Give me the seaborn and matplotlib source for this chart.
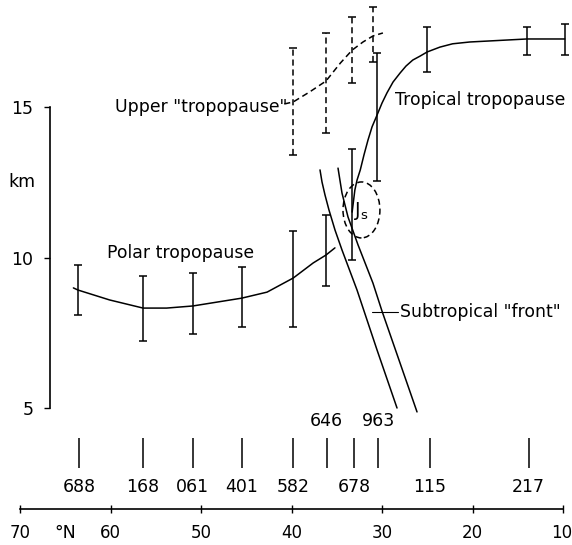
import numpy as np
import pandas as pd
import matplotlib
matplotlib.use("Agg")
import matplotlib.pyplot as plt
from matplotlib.patches import Ellipse
import seaborn as sns

# ---------------- data ----------------
station_names = ['688', '168', '061', '401', '582', '646', '678', '963', '115', '217']
station_lat = [63.5, 56.4, 50.9, 45.5, 39.8, 36.1, 33.1, 30.4, 24.7, 13.8]
stations_label_above = ['646', '963']

polar_lat = [64.1, 63.6, 60.1, 56.4, 53.8, 50.9, 45.5, 42.7, 39.8, 37.6, 36.2, 35.2]
polar_km = [8.99, 8.92, 8.59, 8.32, 8.32, 8.39, 8.65, 8.85, 9.32, 9.82, 10.08, 10.32]
polar_bar_lat = [63.6, 56.4, 50.9, 45.5, 39.8, 36.2]
polar_bar_lo = [8.09, 7.23, 7.46, 7.69, 7.69, 9.05]
polar_bar_hi = [9.75, 9.40, 9.49, 9.68, 10.88, 11.41]

upper_lat = [40.8, 39.8, 38.0, 36.2, 34.6, 33.3, 32.1, 31.0, 29.9]
upper_km = [15.10, 15.17, 15.50, 15.86, 16.46, 16.89, 17.16, 17.36, 17.46]
upper_bar_lat = [39.8, 36.2, 33.3, 31.0]
upper_bar_lo = [13.41, 14.14, 15.80, 16.50]
upper_bar_hi = [16.96, 17.46, 17.99, 18.32]

tropical_lat = [33.3, 33.0, 32.76, 32.4, 31.99, 31.55, 31.1, 30.55, 30.0, 29.45,
                28.78, 28.0, 27.35, 26.6, 25.8, 25.0, 23.6, 22.2, 20.3, 18.4, 14.0, 9.8]
tropical_km = [11.51, 12.24, 12.57, 12.91, 13.41, 13.90, 14.34, 14.73, 15.13, 15.47,
               15.83, 16.13, 16.36, 16.56, 16.69, 16.83, 16.99, 17.10, 17.16, 17.19, 17.26, 17.26]
tropical_bar_lat = [33.3, 30.6, 25.0, 14.0, 9.8]
tropical_bar_lo = [9.92, 12.54, 16.16, 16.73, 16.73]
tropical_bar_hi = [13.60, 16.79, 17.66, 17.66, 17.76]

front_west_lat = [36.85, 36.63, 36.30, 35.86, 35.19, 34.42, 32.76, 30.55, 28.34]
front_west_km = [12.91, 12.51, 12.08, 11.58, 10.91, 10.25, 8.92, 6.93, 5.00]
front_east_lat = [34.86, 34.42, 33.76, 32.65, 31.00, 30.00, 26.13]
front_east_km = [12.97, 12.14, 11.35, 10.42, 9.15, 8.22, 4.87]

jet_center = (32.27, 11.58)
jet_size = (4.08, 1.86)

lat_ticks = [70, 60, 50, 40, 30, 20, 10]
km_ticks = [5, 10, 15]

# ---------------- figure ----------------
sns.set_theme(style="white")
plt.rcParams['font.family'] = ['DejaVu Sans']
plt.rcParams['text.color'] = 'black'
plt.rcParams['xtick.color'] = 'black'
plt.rcParams['ytick.color'] = 'black'

fig = plt.figure(figsize=(5.72, 5.45), dpi=100)
ax = fig.add_axes([20 / 572, 36 / 545, 543 / 572, 509 / 545])
ax.set_xlim(70, 10)
ax.set_ylim(1.645, 18.555)
ax.patch.set_alpha(0)

LW = 1.1
DASH = (0, (4, 2.5))
TXT = 12.4
NUM = 12.5

def curve(xs, ys, dashed=False):
    df = pd.DataFrame({"lat": xs, "km": ys})
    kw = dict(linestyle=DASH) if dashed else {}
    sns.lineplot(data=df, x="lat", y="km", sort=False, estimator=None,
                 color="black", lw=LW, ax=ax, clip_on=False, **kw)

def bars(xs, lo, hi, dashed=False):
    lo = np.asarray(lo); hi = np.asarray(hi)
    mid = (lo + hi) / 2
    half = (hi - lo) / 2
    cont = ax.errorbar(xs, mid, yerr=half, fmt='none', ecolor='black',
                       elinewidth=LW, capsize=3, capthick=LW)
    for art in list(cont[1]) + list(cont[2]):
        art.set_clip_on(False)
    if dashed:
        for lc in cont[2]:
            lc.set_linestyle(DASH)

curve(polar_lat, polar_km)
bars(polar_bar_lat, polar_bar_lo, polar_bar_hi)

curve(upper_lat, upper_km, dashed=True)
bars(upper_bar_lat, upper_bar_lo, upper_bar_hi, dashed=True)

curve(tropical_lat, tropical_km)
bars(tropical_bar_lat, tropical_bar_lo, tropical_bar_hi)

curve(front_west_lat, front_west_km)
curve(front_east_lat, front_east_km)

ax.add_patch(Ellipse(jet_center, jet_size[0], jet_size[1], fill=False,
                     edgecolor='black', lw=LW, linestyle=DASH))
ax.text(jet_center[0], jet_center[1] - 0.05, r'J$_\mathregular{s}$', fontsize=13.5,
        ha='center', va='center')

# station markers
ax.vlines(station_lat, 3.0, 4.0, color='black', lw=LW)
for name, lat in zip(station_names, station_lat):
    if name in stations_label_above:
        ax.text(lat, 4.57, name, ha='center', va='center', fontsize=NUM)
    else:
        ax.text(lat, 2.38, name, ha='center', va='center', fontsize=NUM)

# annotations
ax.text(59.5, 15.0, 'Upper "tropopause"', fontsize=TXT, ha='left', va='center')
ax.text(28.56, 15.23, 'Tropical tropopause', fontsize=TXT, ha='left', va='center')
ax.text(60.39, 10.15, 'Polar tropopause', fontsize=TXT, ha='left', va='center')
ax.plot([31.1, 28.25], [8.19, 8.19], color='black', lw=0.8)
ax.text(28.0, 8.19, 'Subtropical "front"', fontsize=TXT, ha='left', va='center')

# axes styling
for s in ['top', 'right']:
    ax.spines[s].set_visible(False)
ax.spines['left'].set_position(('data', 66.69))
ax.spines['left'].set_bounds(5, 15)
ax.spines['bottom'].set_bounds(70, 10)
for s in ['left', 'bottom']:
    ax.spines[s].set_color('black')
    ax.spines[s].set_linewidth(1.2)

ax.set_yticks(km_ticks)
ax.set_yticklabels([str(v) for v in km_ticks], fontsize=NUM)
ax.set_xticks(lat_ticks)
# last label ("10") is placed by hand so it stays inside the figure edge
ax.set_xticklabels([str(v) for v in lat_ticks[:-1]] + [''], fontsize=12)
ax.tick_params(axis='y', left=True, length=4, width=1, pad=8, colors='black')
ax.tick_params(axis='x', bottom=True, direction='inout', length=6, width=1,
               pad=8, colors='black')
ax.text(lat_ticks[-1], 0.85, str(lat_ticks[-1]), fontsize=12, ha='right',
        va='center', clip_on=False,
        transform=ax.transData + matplotlib.transforms.ScaledTranslation(
            7 / 72, 0, fig.dpi_scale_trans))
ax.set_xlabel('')
ax.set_ylabel('')
ax.text(69.75, 12.51, 'km', fontsize=NUM, ha='center', va='center')
ax.text(65.0, 0.85, '°N', fontsize=NUM, ha='center', va='center', clip_on=False)

fig.savefig('out.png', dpi=100)
